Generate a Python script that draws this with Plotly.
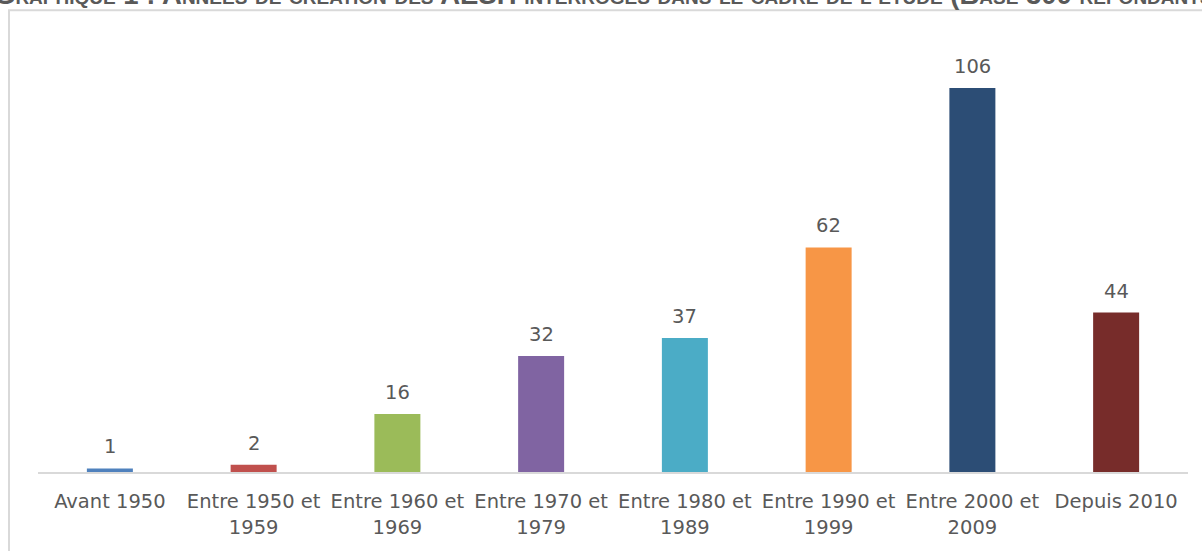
import plotly.graph_objects as go

categories = ["Avant 1950", "Entre 1950 et<br>1959", "Entre 1960 et<br>1969", "Entre 1970 et<br>1979",
              "Entre 1980 et<br>1989", "Entre 1990 et<br>1999", "Entre 2000 et<br>2009", "Depuis 2010"]
values = [1, 2, 16, 32, 37, 62, 106, 44]
colors = ["#4F81BD", "#C0504D", "#9BBB59", "#8064A2", "#4BACC6", "#F79646", "#2C4D75", "#772C2A"]
title_text = "Graphique 1 : Années de création des AESH interrogés dans le cadre de l'étude (Base 300 répondants)"

W, H = 1202, 551
L, R, T, B = 38, 14, 30, 74
pw, ph = W - L - R, H - T - B

def px_x(p):
    return (p - L) / pw

def px_y(p):
    return (H - B - p) / ph

fig = go.Figure()
fig.add_trace(go.Bar(x=categories, y=values, marker=dict(color=colors, line=dict(width=0)),
                     hoverinfo="skip"))

label_font = dict(family="DejaVu Sans", size=19.5, color="#595959")
for c, v in zip(categories, values):
    fig.add_annotation(x=c, y=v, xref="x", yref="y", text=str(v), showarrow=False,
                       yanchor="bottom", yshift=8, font=label_font)

fig.add_annotation(x=px_x(-8), y=px_y(12), xref="paper", yref="paper", xanchor="left", yanchor="bottom",
                   text="<b>" + title_text + "</b>", showarrow=False,
                   font=dict(family="Liberation Sans", size=27.5, color="#595959", variant="small-caps"))

fig.add_shape(type="rect", xref="paper", yref="paper",
              x0=px_x(9), x1=px_x(1215), y0=px_y(570), y1=px_y(10),
              line=dict(color="#D9D9D9", width=2), fillcolor="rgba(0,0,0,0)", layer="below")

fig.update_layout(
    width=W, height=H,
    margin=dict(l=L, r=R, t=T, b=B, pad=0),
    paper_bgcolor="white", plot_bgcolor="white",
    bargap=0.68, showlegend=False,
    xaxis=dict(showline=True, linecolor="#D9D9D9", linewidth=2, ticks="", showgrid=False,
               tickfont=label_font, ticklabelstandoff=11, fixedrange=True),
    yaxis=dict(range=[0, 122], visible=False, showgrid=False, fixedrange=True),
)

fig.write_html("out.html", config={"displayModeBar": False},
               post_script="document.body.style.margin='0';")
